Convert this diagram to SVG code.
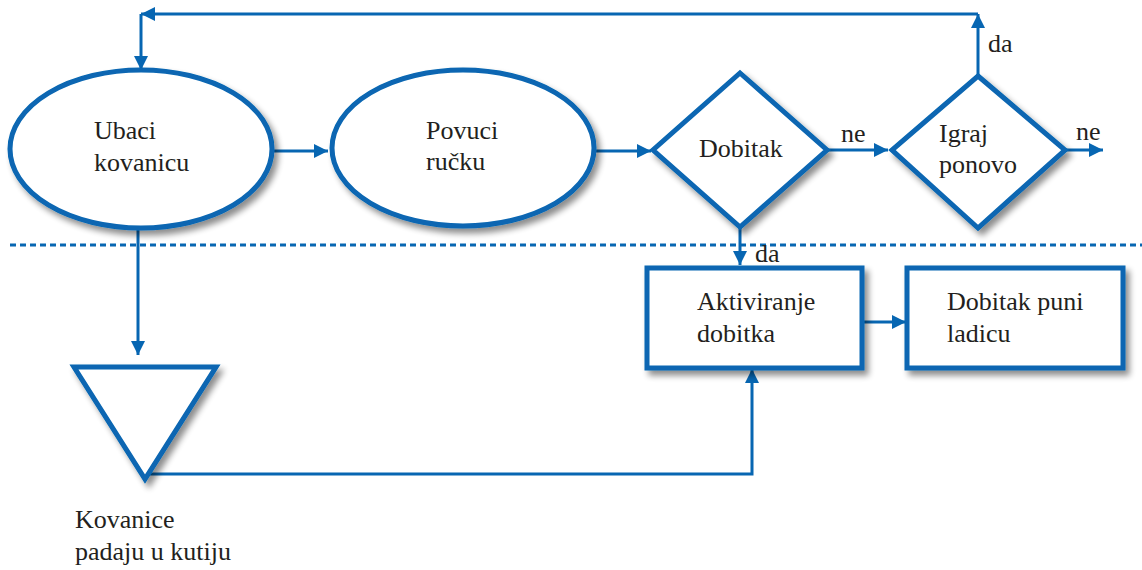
<svg xmlns="http://www.w3.org/2000/svg" width="1142" height="570" viewBox="0 0 1142 570">
<style>
.shape{fill:#fff;stroke:#0766b2;stroke-width:5}
.conn{fill:none;stroke:#0766b2;stroke-width:3}
text{font-family:'Liberation Serif','Times New Roman',serif;font-size:26px;fill:#231f20}
</style>
<defs>
<filter id="sh" x="-20%" y="-20%" width="150%" height="150%">
<feGaussianBlur in="SourceAlpha" stdDeviation="3"/>
<feOffset dx="4" dy="5" result="b"/>
<feComponentTransfer><feFuncA type="linear" slope="0.45"/></feComponentTransfer>
<feMerge><feMergeNode/><feMergeNode in="SourceGraphic"/></feMerge>
</filter>
<marker id="ah" viewBox="0 0 14 14" refX="14" refY="7" markerWidth="14" markerHeight="14" markerUnits="userSpaceOnUse" orient="auto">
<path d="M0,0 L14,7 L0,14 Z" fill="#0766b2"/>
</marker>
</defs>
<rect width="1142" height="570" fill="#fff"/>
<line x1="10" y1="245" x2="1142" y2="245" stroke="#0766b2" stroke-width="3" stroke-dasharray="6,4"/>
<g id="connectors">
<path class="conn" d="M978,76 V14" marker-end="url(#ah)"/>
<path class="conn" d="M978,14 H141" marker-end="url(#ah)"/>
<path class="conn" d="M141,14 V70" marker-end="url(#ah)"/>
<path class="conn" d="M272,151 H328" marker-end="url(#ah)"/>
<path class="conn" d="M595,151 H651" marker-end="url(#ah)"/>
<path class="conn" d="M827,150 H888" marker-end="url(#ah)"/>
<path class="conn" d="M1065,150 H1103" marker-end="url(#ah)"/>
<path class="conn" d="M740,227 V265" marker-end="url(#ah)"/>
<path class="conn" d="M862,322 H906" marker-end="url(#ah)"/>
<path class="conn" d="M138,228 V355" marker-end="url(#ah)"/>
<path class="conn" d="M145,474 H752 V369" marker-end="url(#ah)"/>
<text x="988" y="52">da</text>
<text x="841" y="142">ne</text>
<text x="1076" y="140">ne</text>
<text x="755" y="262">da</text>
</g>
<g id="ubaci">
<ellipse class="shape" cx="141" cy="149" rx="131" ry="79" filter="url(#sh)"/>
<text x="94" y="139">Ubaci</text>
<text x="94" y="171">kovanicu</text>
</g>
<g id="povuci">
<ellipse class="shape" cx="463" cy="148" rx="131" ry="78" filter="url(#sh)"/>
<text x="426" y="139">Povuci</text>
<text x="426" y="170">ručku</text>
</g>
<g id="dobitak">
<polygon class="shape" points="740,73 827,150 740,227 653,150" filter="url(#sh)"/>
<text x="699" y="157">Dobitak</text>
</g>
<g id="igraj">
<polygon class="shape" points="978,76 1065,150 978,228 892,150" filter="url(#sh)"/>
<text x="939" y="142">Igraj</text>
<text x="939" y="173">ponovo</text>
</g>
<g id="aktiviranje">
<rect class="shape" x="647" y="268" width="215" height="100" filter="url(#sh)"/>
<text x="697" y="310">Aktiviranje</text>
<text x="697" y="342">dobitka</text>
</g>
<g id="ladica">
<rect class="shape" x="907" y="268" width="216" height="100" filter="url(#sh)"/>
<text x="947" y="310">Dobitak puni</text>
<text x="947" y="342">ladicu</text>
</g>
<g id="kutija">
<polygon class="shape" points="74,367 216,367 145,479" filter="url(#sh)"/>
<text x="75" y="528">Kovanice</text>
<text x="75" y="560">padaju u kutiju</text>
</g>
</svg>
